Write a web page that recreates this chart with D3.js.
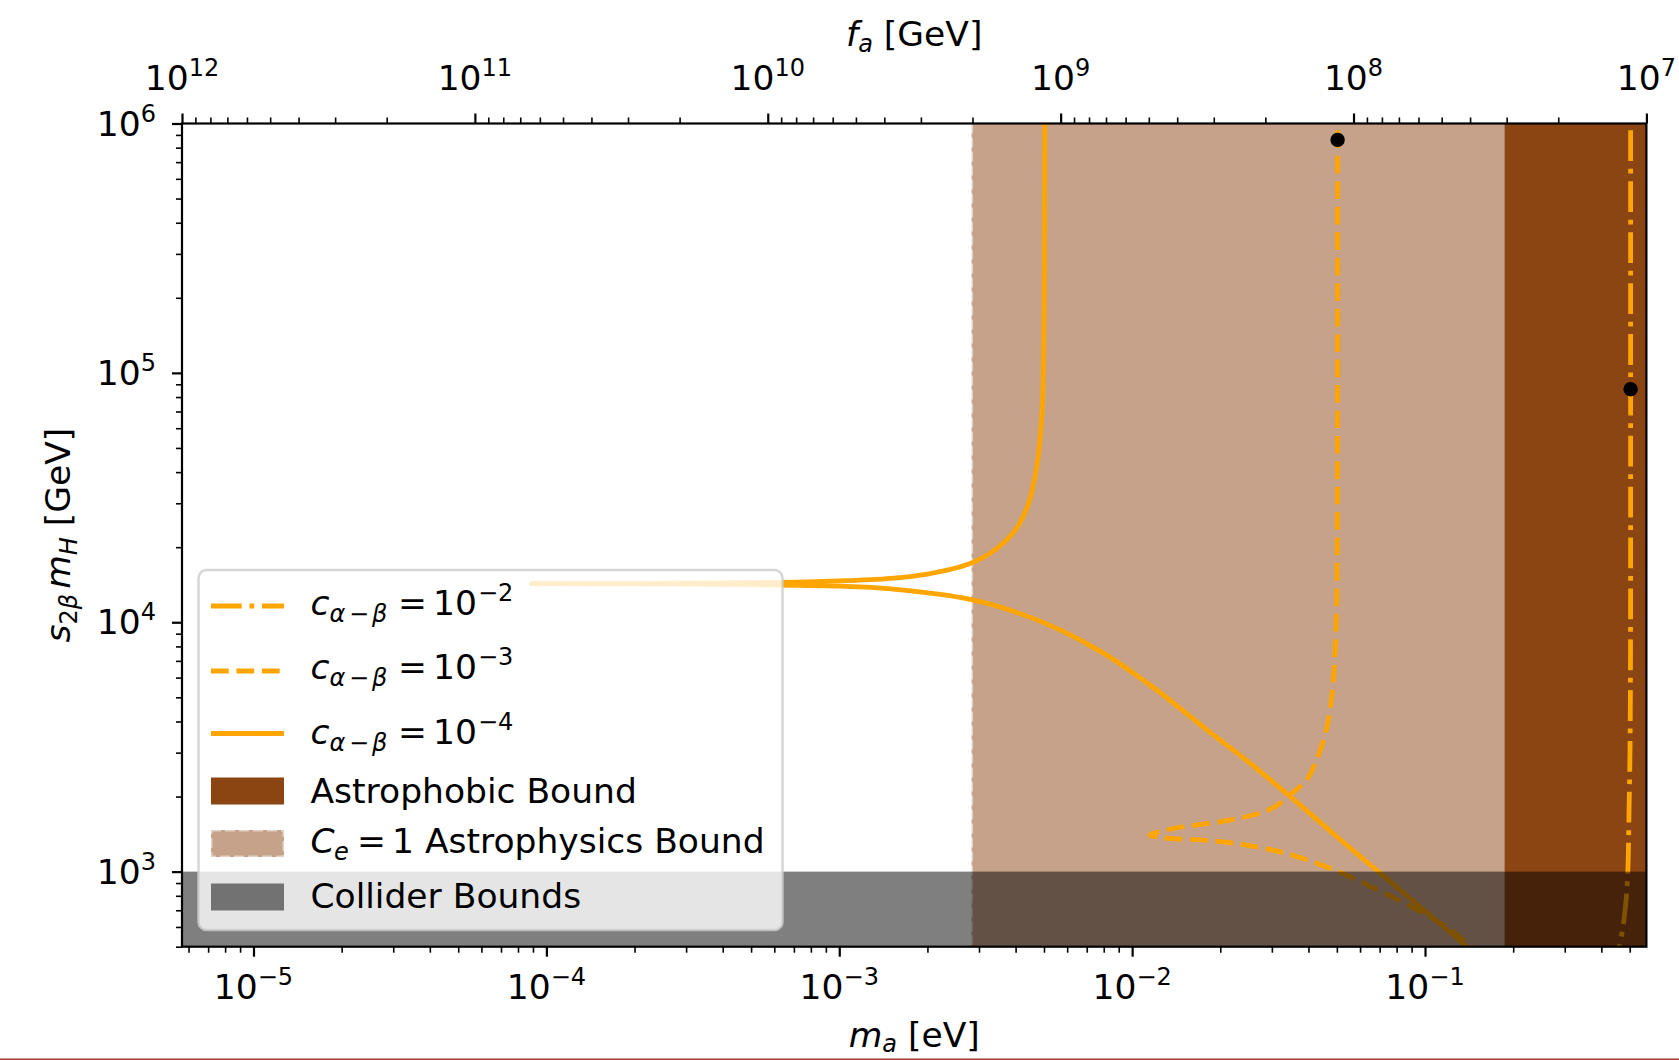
<!DOCTYPE html>
<html>
<head>
<meta charset="utf-8">
<script src="https://cdn.jsdelivr.net/npm/d3@7"></script>
<style>
  html, body { margin: 0; padding: 0; background: #fff; }
  svg { display: block; font-family: "DejaVu Sans", sans-serif; }
</style>
</head>
<body>
<svg id="chart" width="1679" height="1060"></svg>
<script>
// ---- axis domains and ticks ----
const maDomain = [5.7e-6, 0.57];          // axion mass m_a [eV]
const faDomain = [1e12, 1e7];             // decay constant f_a [GeV] (top axis)
const yDomain  = [500, 1e6];              // s_2beta m_H [GeV]
const maTicks = [1e-5, 1e-4, 1e-3, 1e-2, 1e-1];
const maTickExp = ["−5", "−4", "−3", "−2", "−1"];
const faTicks = [1e12, 1e11, 1e10, 1e9, 1e8, 1e7];
const faTickExp = ["12", "11", "10", "9", "8", "7"];
const yTicks = [1e3, 1e4, 1e5, 1e6];
const yTickExp = ["3", "4", "5", "6"];

// ---- bounds ----
const ceBoundMa = 2.83e-3;        // C_e = 1 astrophysics bound (m_a above excluded)
const astrophobicMa = 0.187;      // astrophobic bound
const colliderMH = 1000;          // collider bound on s_2beta m_H

// ---- contours [m_a (eV), s_2beta m_H (GeV)] ----
const curveC4 = [   // c_{alpha-beta} = 1e-4
  [5.03e-3, 1.5e6], [5.03e-3, 1e6], [5.025e-3, 5e5], [5.015e-3, 2.5e5],
  [4.99e-3, 1.2e5], [4.95e-3, 8e4], [4.88e-3, 6e4], [4.75e-3, 4.4e4],
  [4.45e-3, 3.05e4], [4.0e-3, 2.35e4], [3.4e-3, 1.95e4], [2.8e-3, 1.72e4],
  [2.0e-3, 1.56e4], [1.5e-3, 1.50e4], [1.0e-3, 1.465e4], [5e-4, 1.44e4],
  [2e-4, 1.432e4], [8.9e-5, 1.428e4], [2e-4, 1.424e4], [5e-4, 1.415e4],
  [1.0e-3, 1.395e4], [1.5e-3, 1.36e4], [2.8e-3, 1.235e4], [4.0e-3, 1.10e4],
  [5.7e-3, 9.3e3], [8e-3, 7.5e3], [1.2e-2, 5.4e3], [1.8e-2, 3.7e3],
  [2.5e-2, 2.75e3], [3.5e-2, 1.98e3], [5.0e-2, 1.38e3], [7.0e-2, 990],
  [0.10, 695], [0.145, 480]
];
const curveC3 = [   // c_{alpha-beta} = 1e-3
  [0.0503, 1.5e6], [0.0503, 1e5], [0.05025, 4e4], [0.0502, 2.4e4],
  [0.0498, 1.06e4], [0.049, 6.6e3], [0.0481, 5.1e3], [0.046, 3.7e3],
  [0.0426, 2.8e3], [0.0394, 2.33e3], [0.0347, 2.04e3], [0.0307, 1.82e3],
  [0.027, 1.71e3], [0.0203, 1.59e3], [0.0148, 1.51e3], [0.0125, 1.45e3],
  [0.0115, 1.40e3], [0.0125, 1.375e3], [0.0134, 1.36e3], [0.0185, 1.33e3],
  [0.0253, 1.27e3], [0.0347, 1.17e3], [0.0476, 1.03e3], [0.0653, 871],
  [0.0894, 725], [0.1226, 584], [0.139, 516], [0.15, 480]
];
const curveC2 = [   // c_{alpha-beta} = 1e-2
  [0.5035, 1.5e6], [0.5035, 1e5], [0.5033, 1e4], [0.5025, 5e3],
  [0.501, 3e3], [0.4975, 1.8e3], [0.4925, 1e3], [0.485, 750],
  [0.474, 600], [0.461, 500], [0.455, 460]
];
const benchmarks = [[0.0503, 8.6e5], [0.5035, 8.6e4]];

// ---- layout ----
const svg = d3.select("#chart");
const L = 182, R = 1646.4, T = 123.5, B = 946.7;
const FS = 34.5, FSS = 24;
const ORANGE = "#FFA500", BROWN = "#8B4513";
const EDGE = "rgba(255,255,255,0.5)";

const x = d3.scaleLog().domain(maDomain).range([L, R]);
const xTop = d3.scaleLog().domain(faDomain).range([L, R]);
const y = d3.scaleLog().domain(yDomain).range([B, T]);

svg.append("defs").append("clipPath").attr("id", "plotClip")
  .append("rect").attr("x", L).attr("y", T).attr("width", R - L).attr("height", B - T);

const plot = svg.append("g").attr("clip-path", "url(#plotClip)");

// C_e = 1 astrophysics bound (semi-transparent saddle brown with dashed edge)
plot.append("rect")
  .attr("x", x(ceBoundMa)).attr("y", T - 10)
  .attr("width", R + 10 - x(ceBoundMa)).attr("height", B - T + 20)
  .attr("fill", BROWN).attr("fill-opacity", 0.5);
plot.append("line")
  .attr("x1", x(ceBoundMa)).attr("x2", x(ceBoundMa)).attr("y1", T).attr("y2", B)
  .attr("stroke", EDGE).attr("stroke-width", 3).attr("stroke-dasharray", "10,4");

// astrophobic bound
plot.append("rect")
  .attr("x", x(astrophobicMa)).attr("y", T - 10)
  .attr("width", R + 10 - x(astrophobicMa)).attr("height", B - T + 20)
  .attr("fill", BROWN);

// contours
const line = d3.line().x(d => x(d[0])).y(d => y(d[1])).curve(d3.curveCatmullRom.alpha(0.5));
const LW = 4.8;
plot.append("path").datum(curveC2).attr("d", line)
  .attr("fill", "none").attr("stroke", ORANGE).attr("stroke-width", LW)
  .attr("stroke-dasharray", [6.4 * LW, 1.6 * LW, 1 * LW, 1.6 * LW].join(","));
plot.append("path").datum(curveC3).attr("d", line)
  .attr("fill", "none").attr("stroke", ORANGE).attr("stroke-width", LW)
  .attr("stroke-dasharray", [3.7 * LW, 1.6 * LW].join(","));
plot.append("path").datum(curveC4).attr("d", line)
  .attr("fill", "none").attr("stroke", ORANGE).attr("stroke-width", LW);

// benchmark points
plot.selectAll("circle.bench").data(benchmarks).join("circle")
  .attr("class", "bench")
  .attr("cx", d => x(d[0])).attr("cy", d => y(d[1])).attr("r", 7.2)
  .attr("fill", "#000");

// collider bounds
plot.append("rect")
  .attr("x", L - 5).attr("y", y(colliderMH))
  .attr("width", R - L + 10).attr("height", B + 5 - y(colliderMH))
  .attr("fill", "#000").attr("fill-opacity", 0.5);

// ---- axes ----
function minorTicks(domain) {
  const [a, b] = d3.extent(domain);
  const out = [];
  for (let k = Math.floor(Math.log10(a)); k <= Math.ceil(Math.log10(b)); k++) {
    for (let m = 2; m <= 9; m++) {
      const v = m * Math.pow(10, k);
      if (v >= a * 0.999 && v <= b * 1.001) out.push(v);
    }
  }
  return out;
}

function drawAxis(axisFn, scale, transform, majors, minors) {
  const gMaj = svg.append("g").attr("transform", transform)
    .call(axisFn(scale).tickValues(majors).tickSize(10).tickSizeOuter(0).tickFormat(() => ""));
  gMaj.select(".domain").remove();
  gMaj.selectAll(".tick line").attr("stroke", "#000").attr("stroke-width", 2.2);
  const gMin = svg.append("g").attr("transform", transform)
    .call(axisFn(scale).tickValues(minors).tickSize(6).tickSizeOuter(0).tickFormat(() => ""));
  gMin.select(".domain").remove();
  gMin.selectAll(".tick line").attr("stroke", "#000").attr("stroke-width", 1.6);
}
drawAxis(d3.axisBottom, x, `translate(0,${B})`, maTicks, minorTicks(maDomain));
drawAxis(d3.axisTop, xTop, `translate(0,${T})`, faTicks, minorTicks(faDomain));
drawAxis(d3.axisLeft, y, `translate(${L},0)`, yTicks, minorTicks(yDomain));

// spines
svg.append("rect").attr("x", L).attr("y", T).attr("width", R - L).attr("height", B - T)
  .attr("fill", "none").attr("stroke", "#000").attr("stroke-width", 2.2);

// power-of-ten tick labels
function powLabel(px, py, exp, anchor) {
  const t = svg.append("text").attr("x", px).attr("y", py)
    .attr("text-anchor", anchor).attr("font-size", FS).attr("fill", "#000");
  t.append("tspan").text("10");
  t.append("tspan").attr("dy", -14).attr("font-size", FSS).text(exp);
  return t;
}
maTicks.forEach((v, i) => powLabel(x(v), B + 52, maTickExp[i], "middle"));
faTicks.forEach((v, i) => powLabel(xTop(v), T - 34, faTickExp[i], "middle"));
yTicks.forEach((v, i) => powLabel(156, y(v) + 12, yTickExp[i], "end"));

// axis titles
const cx = (L + R) / 2;
{
  const t = svg.append("text").attr("x", cx).attr("y", 1047)
    .attr("text-anchor", "middle").attr("font-size", FS);
  t.append("tspan").attr("font-style", "italic").text("m");
  t.append("tspan").attr("font-style", "italic").attr("font-size", FSS).attr("dy", 5).text("a");
  t.append("tspan").attr("dy", -5).text(" [eV]");
}
{
  const t = svg.append("text").attr("x", cx).attr("y", 46)
    .attr("text-anchor", "middle").attr("font-size", FS);
  t.append("tspan").attr("font-style", "italic").text("f");
  t.append("tspan").attr("font-style", "italic").attr("font-size", FSS).attr("dy", 6).text("a");
  t.append("tspan").attr("dy", -6).text(" [GeV]");
}
{
  const t = svg.append("text").attr("transform", `translate(70,${(T + B) / 2}) rotate(-90)`)
    .attr("text-anchor", "middle").attr("font-size", FS);
  t.append("tspan").attr("font-style", "italic").text("s");
  t.append("tspan").attr("font-size", FSS).attr("dy", 7).text("2");
  t.append("tspan").attr("font-size", FSS).attr("font-style", "italic").text("β");
  t.append("tspan").attr("dy", -7).attr("dx", 5).attr("font-style", "italic").text("m");
  t.append("tspan").attr("font-size", FSS).attr("font-style", "italic").attr("dy", 7).text("H");
  t.append("tspan").attr("dy", -7).text(" [GeV]");
}

// ---- legend ----
const lg = svg.append("g");
lg.append("rect").attr("x", 198.5).attr("y", 570).attr("width", 584).attr("height", 360)
  .attr("rx", 8).attr("fill", "#fff").attr("fill-opacity", 0.8)
  .attr("stroke", "#ccc").attr("stroke-opacity", 0.8).attr("stroke-width", 2.5);

const HX0 = 211, HX1 = 284, TX = 310.5;
const lineEntries = [
  { ly: 606, base: 615, exp: "−2", dash: [6.4 * LW, 1.6 * LW, 1 * LW, 1.6 * LW].join(",") },
  { ly: 671, base: 679, exp: "−3", dash: [3.7 * LW, 1.6 * LW].join(",") },
  { ly: 733.5, base: 744, exp: "−4", dash: null }
];
lineEntries.forEach(e => {
  const l = lg.append("line").attr("x1", HX0).attr("x2", HX1).attr("y1", e.ly).attr("y2", e.ly)
    .attr("stroke", ORANGE).attr("stroke-width", LW);
  if (e.dash) l.attr("stroke-dasharray", e.dash);
  const t = lg.append("text").attr("y", e.base).attr("font-size", FS);
  t.append("tspan").attr("x", TX).attr("font-style", "italic").text("c");
  t.append("tspan").attr("x", 329.5).attr("dy", 7).attr("font-size", FSS).attr("font-style", "italic").text("α");
  t.append("tspan").attr("x", 349).attr("font-size", FSS).text("−");
  t.append("tspan").attr("x", 372).attr("font-size", FSS).attr("font-style", "italic").text("β");
  t.append("tspan").attr("x", 398).attr("dy", -7).text("=");
  t.append("tspan").attr("x", 433).text("10");
  t.append("tspan").attr("x", 478).attr("dy", -14).attr("font-size", FSS).text(e.exp);
});

// patch entries
lg.append("rect").attr("x", HX0).attr("y", 777.5).attr("width", HX1 - HX0).attr("height", 27)
  .attr("fill", BROWN);
lg.append("text").attr("x", TX).attr("y", 803).attr("font-size", FS).text("Astrophobic Bound");

lg.append("rect").attr("x", HX0).attr("y", 830).attr("width", HX1 - HX0).attr("height", 27)
  .attr("fill", BROWN).attr("fill-opacity", 0.5)
  .attr("stroke", EDGE).attr("stroke-width", 3)
  .attr("stroke-dasharray", "10,4");
{
  const t = lg.append("text").attr("y", 853).attr("font-size", FS);
  t.append("tspan").attr("x", TX).attr("font-style", "italic").text("C");
  t.append("tspan").attr("x", 334).attr("dy", 7).attr("font-size", FSS).attr("font-style", "italic").text("e");
  t.append("tspan").attr("x", 357).attr("dy", -7).text("=");
  t.append("tspan").attr("x", 392).text("1 Astrophysics Bound");
}

lg.append("rect").attr("x", HX0).attr("y", 883.5).attr("width", HX1 - HX0).attr("height", 27)
  .attr("fill", "#000").attr("fill-opacity", 0.5);
lg.append("text").attr("x", TX).attr("y", 908).attr("font-size", FS).text("Collider Bounds");

// thin border line along the bottom edge
svg.append("rect").attr("x", 0).attr("y", 1058.5).attr("width", 1679).attr("height", 1.5)
  .attr("fill", "#a8392c");
</script>
</body>
</html>
